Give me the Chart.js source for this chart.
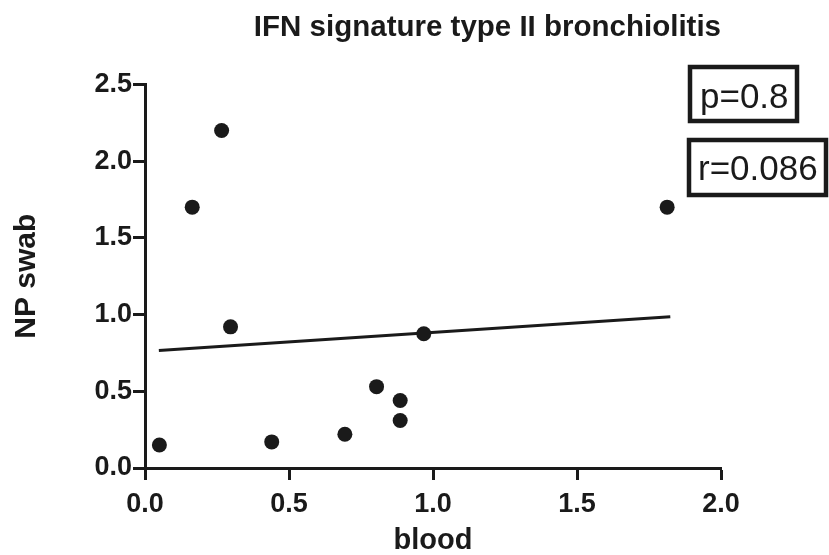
<!DOCTYPE html>
<html>
<head>
<meta charset="utf-8">
<script src="https://cdn.jsdelivr.net/npm/chart.js@4"></script>
<style>
  html, body { margin: 0; padding: 0; background: #fff; }
  #wrap { width: 829px; height: 555px; }
</style>
</head>
<body>
<div id="wrap"><canvas id="c" width="829" height="555"></canvas></div>
<script>
// ---- data ----
const titleText = 'IFN signature type II bronchiolitis';
const xTitle = 'blood';
const yTitle = 'NP swab';
const bloodValues = [0.05, 0.164, 0.266, 0.297, 0.44, 0.694, 0.804, 0.886, 0.886, 0.968, 1.813];
const swabValues  = [0.15, 1.70, 2.20, 0.92, 0.17, 0.22, 0.53, 0.44, 0.31, 0.875, 1.70];
const fitX = [0.048, 1.824];
const fitY = [0.765, 0.985];
const xTickValues = [0, 0.5, 1.0, 1.5, 2.0];
const yTickValues = [0, 0.5, 1.0, 1.5, 2.0, 2.5];
const statLabels = ['p=0.8', 'r=0.086'];

const ink = '#1a1a1a';
const FONT = "'Liberation Sans', Arial, Helvetica, sans-serif";

const statBoxes = {
  id: 'statBoxes',
  afterDraw(chart) {
    const ctx = chart.ctx;
    ctx.save();
    ctx.strokeStyle = ink;
    ctx.lineWidth = 4.5;
    ctx.strokeRect(690, 67, 107, 54);
    ctx.strokeRect(689, 140, 137, 55);
    ctx.fillStyle = ink;
    ctx.font = '35px ' + FONT;
    ctx.textBaseline = 'alphabetic';
    ctx.textAlign = 'left';
    ctx.fillText(statLabels[0], 700, 108);
    ctx.fillText(statLabels[1], 698, 180);
    ctx.restore();
  }
};

const points = bloodValues.map((x, i) => ({x: x, y: swabValues[i]}));
const fit = fitX.map((x, i) => ({x: x, y: fitY[i]}));

new Chart(document.getElementById('c'), {
  type: 'scatter',
  data: {
    datasets: [
      {
        data: points,
        backgroundColor: ink,
        borderColor: ink,
        borderWidth: 0,
        pointRadius: 7.5,
        pointHoverRadius: 7.5
      },
      {
        type: 'line',
        data: fit,
        showLine: true,
        borderColor: ink,
        borderWidth: 3,
        pointRadius: 0,
        fill: false
      }
    ]
  },
  options: {
    responsive: false,
    animation: false,
    layout: { padding: { left: 0, right: 108, top: 0, bottom: 0 } },
    plugins: {
      legend: { display: false },
      tooltip: { enabled: false },
      title: {
        display: true,
        text: titleText,
        align: 'end',
        color: ink,
        font: { family: FONT, size: 29.5, weight: 'bold' },
        padding: { top: 10, bottom: 39 }
      }
    },
    scales: {
      x: {
        type: 'linear',
        min: 0, max: 2,
        afterBuildTicks: s => { s.ticks = xTickValues.map(v => ({value: v})); },
        afterFit: s => { s.height = 87; },
        ticks: {
          color: ink,
          padding: 8,
          font: { family: FONT, size: 27, weight: 'bold' },
          callback: v => Number(v).toFixed(1)
        },
        grid: { display: true, drawOnChartArea: false, drawTicks: true, tickLength: 12, tickWidth: 3, tickColor: ink },
        border: { display: true, width: 3, color: ink },
        title: {
          display: true, text: xTitle, color: ink,
          font: { family: FONT, size: 29, weight: 'bold' },
          padding: { top: 0, bottom: -3 }
        }
      },
      y: {
        type: 'linear',
        min: 0, max: 2.5,
        afterBuildTicks: s => { s.ticks = yTickValues.map(v => ({value: v})); },
        afterFit: s => { s.width = 145; },
        ticks: {
          color: ink,
          padding: 1,
          font: { family: FONT, size: 27, weight: 'bold' },
          callback: v => Number(v).toFixed(1)
        },
        grid: { display: true, drawOnChartArea: false, drawTicks: true, tickLength: 12, tickWidth: 3, tickColor: ink },
        border: { display: true, width: 3, color: ink },
        title: {
          display: true, text: yTitle, color: ink,
          font: { family: FONT, size: 30, weight: 'bold' },
          padding: { top: 9, bottom: 0 }
        }
      }
    }
  },
  plugins: [statBoxes]
});
</script>
</body>
</html>
